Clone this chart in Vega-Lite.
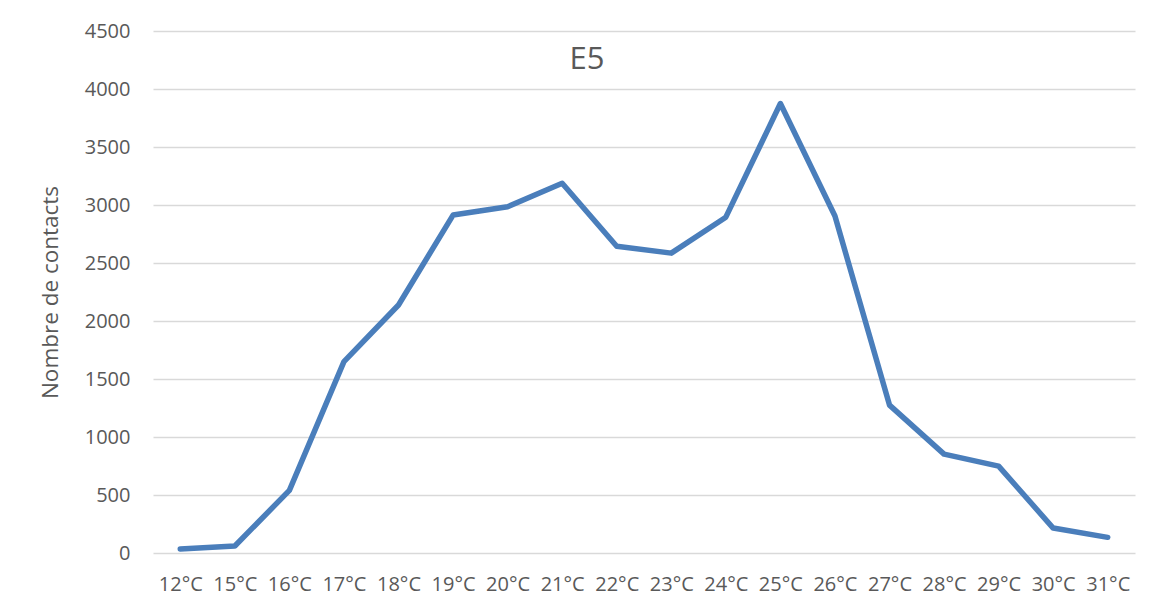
{
  "$schema": "https://vega.github.io/schema/vega-lite/v6.json",
  "width": 982,
  "height": 522,
  "autosize": "none",
  "padding": {"left": 153, "top": 31, "right": 16, "bottom": 49},
  "background": "white",
  "title": {
    "text": "E5",
    "font": "Open Sans",
    "fontSize": 31,
    "fontWeight": "normal",
    "color": "#595959",
    "anchor": "middle",
    "frame": "group",
    "baseline": "top",
    "offset": 0,
    "dx": -57,
    "dy": 55
  },
  "data": {
    "values": [
      {"temp": "12°C", "contacts": 35},
      {"temp": "15°C", "contacts": 60},
      {"temp": "16°C", "contacts": 540},
      {"temp": "17°C", "contacts": 1650},
      {"temp": "18°C", "contacts": 2138},
      {"temp": "19°C", "contacts": 2913},
      {"temp": "20°C", "contacts": 2985},
      {"temp": "21°C", "contacts": 3187},
      {"temp": "22°C", "contacts": 2645},
      {"temp": "23°C", "contacts": 2585},
      {"temp": "24°C", "contacts": 2895},
      {"temp": "25°C", "contacts": 3875},
      {"temp": "26°C", "contacts": 2905},
      {"temp": "27°C", "contacts": 1275},
      {"temp": "28°C", "contacts": 852},
      {"temp": "29°C", "contacts": 749},
      {"temp": "30°C", "contacts": 215},
      {"temp": "31°C", "contacts": 135}
    ]
  },
  "mark": {
    "type": "line",
    "color": "#4A7EBB",
    "strokeWidth": 5.5,
    "strokeCap": "round",
    "strokeJoin": "round"
  },
  "encoding": {
    "x": {
      "field": "temp",
      "type": "nominal",
      "sort": null,
      "scale": {"type": "point", "padding": 0.5},
      "axis": {
        "title": null,
        "labelAngle": 0,
        "labelFont": "Open Sans",
        "labelFontSize": 20,
        "labelColor": "#595959",
        "ticks": false,
        "tickSize": 0,
        "labelPadding": 21,
        "domain": false,
        "grid": false
      }
    },
    "y": {
      "field": "contacts",
      "type": "quantitative",
      "scale": {"domain": [0, 4500], "nice": false},
      "axis": {
        "title": "Nombre de contacts",
        "titleFont": "Open Sans",
        "titleFontSize": 22.5,
        "titleFontWeight": "normal",
        "titleColor": "#595959",
        "titleX": -96,
        "titleY": 261,
        "titleAngle": -90,
        "titleAlign": "center",
        "titleBaseline": "alphabetic",
        "values": [0, 500, 1000, 1500, 2000, 2500, 3000, 3500, 4000, 4500],
        "format": "d",
        "labelFont": "Open Sans",
        "labelFontSize": 20,
        "labelColor": "#595959",
        "ticks": false,
        "tickSize": 0,
        "labelPadding": 23,
        "domain": false,
        "grid": true,
        "gridColor": "#D9D9D9",
        "gridWidth": 1.5
      }
    }
  },
  "config": {
    "view": {"stroke": null}
  }
}
